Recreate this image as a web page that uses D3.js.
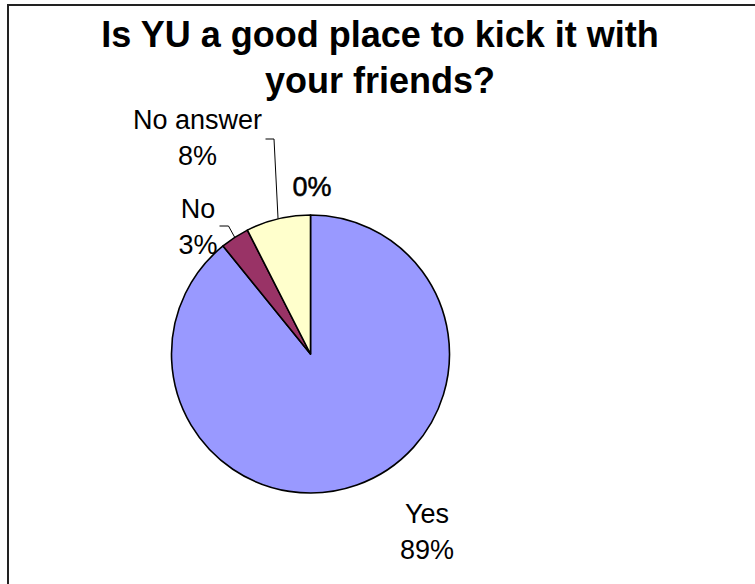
<!DOCTYPE html>
<html>
<head>
<meta charset="utf-8">
<script src="https://cdn.jsdelivr.net/npm/d3@7"></script>
<style>
  html, body { margin: 0; padding: 0; background: #fff; }
  svg { display: block; }
  text { font-family: Arial, "Liberation Sans", Helvetica, sans-serif; fill: #000; }
</style>
</head>
<body>
<svg id="chart" width="755" height="584"></svg>
<script>
// Survey answers (counts of respondents)
const categories = ["Yes", "No", "No answer", ""];
const counts = [107, 4, 9, 0];
const colors = ["#9999FF", "#993366", "#FFFFCC", "#CCFFFF"];
const titleLines = ["Is YU a good place to kick it with", "your friends?"];

// Label block centres (x) and first-line baselines (y), per category
const labelX = [427, 198, 197.5, 312];
const labelY = [523, 218, 129, 196];

const W = 755, H = 584;
const cx = 310.5, cy = 354, radius = 139;

const svg = d3.select("#chart");

// Chart area frame
svg.append("rect")
  .attr("x", 8).attr("y", 5)
  .attr("width", W + 20).attr("height", H + 20)
  .attr("fill", "#fff")
  .attr("stroke", "#222")
  .attr("stroke-width", 2);

// Title
svg.append("text")
  .attr("text-anchor", "middle")
  .attr("font-size", 36)
  .attr("font-weight", "bold")
  .selectAll("tspan")
  .data(titleLines)
  .join("tspan")
  .attr("x", 380)
  .attr("y", (d, i) => 47 + i * 46)
  .text(d => d);

const total = d3.sum(counts);
const data = categories.map((c, i) => ({ name: c, value: counts[i], color: colors[i], i }));

const pie = d3.pie().value(d => d.value).sort(null);
const arcs = pie(data);
const arc = d3.arc().innerRadius(0).outerRadius(radius);

const g = svg.append("g").attr("transform", `translate(${cx},${cy})`);

g.selectAll("path")
  .data(arcs.filter(a => a.value > 0))
  .join("path")
  .attr("d", arc)
  .attr("fill", d => d.data.color)
  .attr("stroke", "#000")
  .attr("stroke-width", 1.6)
  .attr("stroke-linejoin", "round");

// Leader lines for the small slices
const leaders = [
  { i: 1, elbow: [-82, -128], start: [-91, -128] },
  { i: 2, elbow: [-36.5, -215], start: [-45, -215] }
];
leaders.forEach(l => {
  const a = arcs[l.i];
  const mid = (a.startAngle + a.endAngle) / 2;
  const ex = Math.sin(mid) * radius, ey = -Math.cos(mid) * radius;
  g.append("path")
    .attr("d", d3.line()([l.start, l.elbow, [ex, ey]]))
    .attr("fill", "none")
    .attr("stroke", "#000")
    .attr("stroke-width", 1);
});

// Category and percentage labels
const fmt = v => Math.round(v / total * 100) + "%";
arcs.forEach((a, k) => {
  const d = a.data;
  const t = svg.append("text")
    .attr("text-anchor", "middle")
    .attr("font-size", 27);
  if (d.name) {
    t.append("tspan").attr("x", labelX[k]).attr("y", labelY[k]).text(d.name);
    t.append("tspan").attr("x", labelX[k]).attr("y", labelY[k] + 36).text(fmt(d.value));
  } else {
    t.attr("stroke", "#000").attr("stroke-width", 0.5);
    t.append("tspan").attr("x", labelX[k]).attr("y", labelY[k]).text(fmt(d.value));
  }
});
</script>
</body>
</html>
